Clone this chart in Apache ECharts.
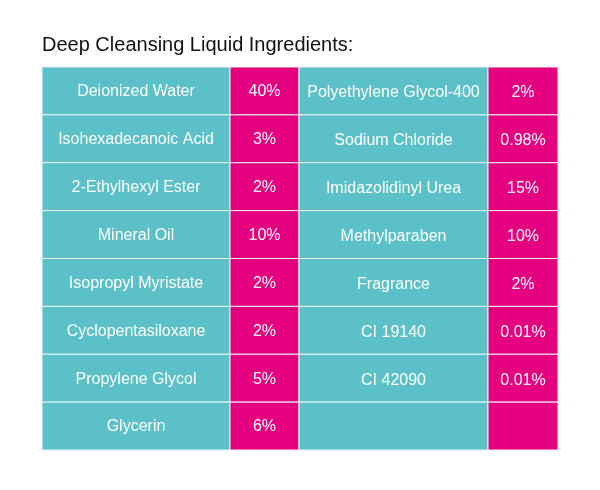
<!DOCTYPE html>
<html><head><meta charset="utf-8">
<script src="https://cdn.jsdelivr.net/npm/echarts@6/dist/echarts.min.js"></script>
<style>html,body{margin:0;background:#fff}#c{width:600px;height:490px}</style>
</head><body><div id="c"></div>
<script>
const leftNames = ['Deionized Water','Isohexadecanoic Acid','2-Ethylhexyl Ester','Mineral Oil','Isopropyl Myristate','Cyclopentasiloxane','Propylene Glycol','Glycerin'];
const leftPct = ['40%','3%','2%','10%','2%','2%','5%','6%'];
const rightNames = ['Polyethylene Glycol-400','Sodium Chloride','Imidazolidinyl Urea','Methylparaben','Fragrance','CI 19140','CI 42090',''];
const rightPct = ['2%','0.98%','15%','10%','2%','0.01%','0.01%',''];
const colEdges = [0,188,257,446,516];
const colColors = ['#5bc0c8','#e4007f','#5bc0c8','#e4007f'];
const rows = leftNames.map((_, i) => String(i));
const data = [];
leftNames.forEach((n, i) => {
  data.push([0, i, n]); data.push([1, i, leftPct[i]]);
  data.push([2, i, rightNames[i]]); data.push([3, i, rightPct[i]]);
});
const chart = echarts.init(document.getElementById('c'));
chart.setOption({
  animation: false,
  title: {text: 'Deep Cleansing Liquid Ingredients:', left: 37, top: 30,
    textStyle: {fontFamily: 'Liberation Sans', fontWeight: 'normal', fontSize: 20, color: '#111'}},
  grid: {left: 42, right: 42, top: 67, bottom: 40},
  xAxis: {type: 'value', min: 0, max: 516, show: false},
  yAxis: {type: 'category', data: rows, inverse: true, show: false},
  series: [{
    type: 'custom',
    data: data,
    renderItem: function (params, api) {
      const c = api.value(0), r = api.value(1);
      const x0 = api.coord([colEdges[c], r])[0];
      const x1 = api.coord([colEdges[c + 1], r])[0];
      const size = api.size([0, 1]);
      const yc = api.coord([0, r])[1];
      const h = size[1];
      return {
        type: 'group',
        children: [
          {type: 'rect', shape: {x: x0, y: yc - h / 2, width: x1 - x0, height: h},
           style: {fill: colColors[c], stroke: '#e8f4f4', lineWidth: 1}},
          {type: 'text', style: {text: data[params.dataIndex][2], x: (x0 + x1) / 2, y: yc + (c >= 2 ? 2 : 1),
            align: 'center', verticalAlign: 'middle', fill: '#fff',
            font: '16px "Liberation Sans", Arial, sans-serif'}}
        ]
      };
    }
  }]
});
</script></body></html>
